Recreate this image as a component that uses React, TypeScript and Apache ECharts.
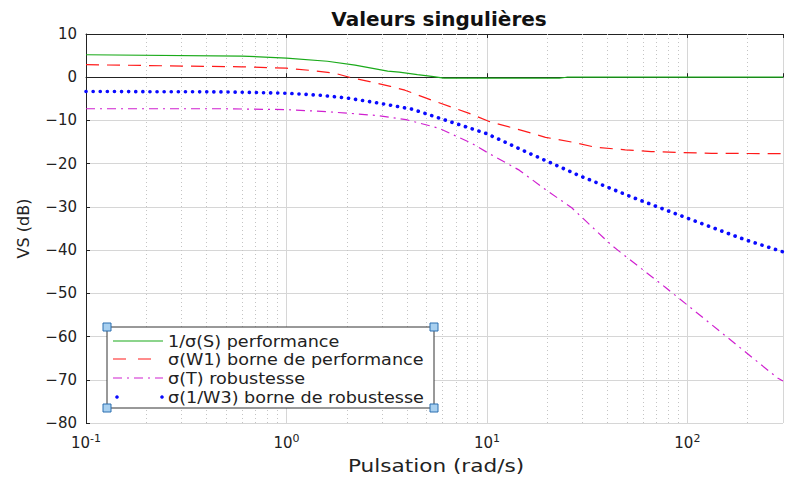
import React, { useEffect, useRef } from "react";
import * as echarts from "echarts";

const freqS = [0.1, 0.6, 1, 1.6, 2.2, 3.2, 3.65, 4.5, 5.3, 6.1, 10, 23, 25, 300];
const valS = [5.2, 4.9, 4.4, 3.7, 2.8, 1.4, 1.2, 0.6, 0.2, -0.2, -0.2, -0.2, 0, 0];

const freqW1 = [0.1, 0.6, 1, 1.3, 1.75, 2.06, 2.6, 3.3, 3.9, 5.3, 8.1, 10.2, 14.9, 19.6, 26.5, 34.8, 49, 66, 90, 132, 300];
const valW1 = [2.9, 2.4, 2.1, 1.6, 0.9, 0, -1.0, -2.1, -3.0, -5.3, -8.3, -10.2, -12.3, -13.9, -15.0, -16.2, -16.8, -17.2, -17.4, -17.6, -17.7];

const freqT = [0.1, 0.5, 1, 1.5, 2, 2.9, 3.95, 5.77, 8.4, 10.2, 14.5, 19.6, 26.5, 41.9, 77.6, 105, 282, 300];
const valT = [-7.3, -7.3, -7.5, -7.9, -8.3, -8.9, -9.8, -11.8, -15.3, -17.6, -21.5, -26.0, -30.2, -38.9, -48.6, -53.5, -69.6, -70.3];

const freqW3 = [0.1, 0.5, 1, 1.5, 2, 2.9, 4.24, 6.47, 9.9, 15.9, 28.7, 52.6, 104, 194, 300];
const valW3 = [-3.3, -3.4, -3.7, -4.2, -4.8, -6.0, -7.4, -10.2, -13.0, -17.4, -22.7, -27.7, -32.9, -37.6, -40.4];

const minorGridX = [0.2, 0.3, 0.4, 0.5, 0.6, 0.7, 0.8, 0.9, 2, 3, 4, 5, 6, 7, 8, 9, 20, 30, 40, 50, 60, 70, 80, 90, 200];

const legendLabels = [
  "1/σ(S) performance",
  "σ(W1) borne de performance",
  "σ(T) robustesse",
  "σ(1/W3) borne de robustesse",
];

const title = "Valeurs singulières";
const xName = "Pulsation (rad/s)";
const yName = "VS (dB)";

const FONT = "'DejaVu Sans', sans-serif";

const zip = (xs: number[], ys: number[]) => xs.map((x, i) => [x, ys[i]]);

const fmtPow = (v: number) => {
  const e = Math.round(Math.log10(v));
  if (Math.abs(v - Math.pow(10, e)) > 1e-6 * v) return "";
  return `{b|10}{s|${e < 0 ? "-" + Math.abs(e) : e}}`;
};

const fmtY = (v: number) => (v < 0 ? "\u2212" + Math.abs(v) : String(v));

export default function App() {
  const ref = useRef<HTMLDivElement>(null);
  useEffect(() => {
    if (!ref.current) return;
    const chart = echarts.init(ref.current, undefined, { renderer: "svg" });
    const lx = 113, lx2 = 163, tx = 168;
    const rows = [341, 359, 378, 397];
    const corner = (x: number, y: number) => ({
      type: "rect",
      shape: { x: x - 4, y: y - 4, width: 8, height: 8 },
      style: { fill: "#a8d0f0", stroke: "#2a6fb0", lineWidth: 1 },
      z: 102,
    });
    const option: any = {
      animation: false,
      backgroundColor: "#ffffff",
      title: {
        text: title,
        left: 434,
        top: 4,
        textAlign: "center",
        textStyle: { fontFamily: FONT, fontSize: 20, fontWeight: "bold", color: "#111" },
      },
      grid: { left: 86, right: 0, top: 34, bottom: 54, containLabel: false },
      xAxis: [
        {
          type: "log",
          logBase: 10,
          min: 0.1,
          max: 300,
          axisLine: { show: true, lineStyle: { color: "#222", width: 1 } },
          axisTick: { show: true, inside: true, length: 4, lineStyle: { color: "#222" } },
          axisLabel: {
            formatter: fmtPow,
            margin: 10,
            rich: {
              b: { fontFamily: FONT, fontSize: 15, color: "#222", lineHeight: 20 },
              s: { fontFamily: FONT, fontSize: 11, color: "#222", verticalAlign: "top", lineHeight: 10 },
            },
          },
          splitLine: { show: true, lineStyle: { color: "#d6d6d6", width: 1 } },
        },
        {
          type: "log",
          logBase: 10,
          min: 0.1,
          max: 300,
          position: "top",
          axisLine: { show: true, lineStyle: { color: "#222", width: 1 } },
          axisTick: { show: true, inside: true, length: 4, lineStyle: { color: "#222" } },
          axisLabel: { show: false },
          splitLine: { show: false },
        },
      ],
      yAxis: {
        type: "value",
        min: -80,
        max: 10,
        interval: 10,
        name: yName,
        nameLocation: "middle",
        nameGap: 55,
        nameTextStyle: { fontFamily: FONT, fontSize: 16, color: "#222" },
        axisLine: { show: true, lineStyle: { color: "#222", width: 1 } },
        axisTick: { show: true, inside: true, length: 4, lineStyle: { color: "#222" } },
        axisLabel: { fontFamily: FONT, fontSize: 15, color: "#222", margin: 9, formatter: fmtY },
        splitLine: { show: true, lineStyle: { color: "#d6d6d6", width: 1 } },
      },
      series: [
        {
          type: "line",
          name: "minor",
          data: [],
          silent: true,
          markLine: {
            silent: true,
            symbol: "none",
            label: { show: false },
            lineStyle: { color: "#c4c4c4", type: [1, 3], width: 1 },
            data: minorGridX.map((v) => ({ xAxis: v })),
          },
        },
        {
          type: "line",
          name: legendLabels[0],
          data: zip(freqS, valS),
          showSymbol: false,
          lineStyle: { color: "#1aaa1a", width: 1.2 },
          z: 5,
        },
        {
          type: "line",
          name: legendLabels[1],
          data: zip(freqW1, valW1),
          showSymbol: false,
          lineStyle: { color: "#ff1a1a", width: 1.2, type: [13, 8] },
          z: 5,
        },
        {
          type: "line",
          name: legendLabels[2],
          data: zip(freqT, valT),
          showSymbol: false,
          lineStyle: { color: "#d020d0", width: 1.2, type: [9, 5, 2, 5] },
          z: 5,
        },
        {
          type: "line",
          name: legendLabels[3],
          data: zip(freqW3, valW3),
          showSymbol: false,
          lineStyle: { color: "#0a0aff", width: 3.6, type: [0.1, 7], cap: "round" },
          z: 5,
        },
      ],
      graphic: [
        {
          type: "text",
          x: 436,
          y: 466,
          scaleX: 1.27,
          style: {
            text: xName,
            fontFamily: FONT,
            fontSize: 17,
            fill: "#222",
            align: "center",
            verticalAlign: "middle",
          },
        },
        {
          type: "rect",
          shape: { x: 107, y: 327, width: 327, height: 81 },
          style: { fill: "#ffffff", stroke: "#333", lineWidth: 1 },
          z: 100,
        },
        {
          type: "line",
          shape: { x1: lx, y1: rows[0], x2: lx2, y2: rows[0] },
          style: { stroke: "#1aaa1a", lineWidth: 1.2 },
          z: 101,
        },
        {
          type: "line",
          shape: { x1: lx, y1: rows[1], x2: lx2, y2: rows[1] },
          style: { stroke: "#ff1a1a", lineWidth: 1.2, lineDash: [13, 12] },
          z: 101,
        },
        {
          type: "line",
          shape: { x1: lx, y1: rows[2], x2: lx2, y2: rows[2] },
          style: { stroke: "#d020d0", lineWidth: 1.2, lineDash: [9, 5, 2, 5] },
          z: 101,
        },
        { type: "circle", shape: { cx: 117, cy: rows[3], r: 1.8 }, style: { fill: "#0a0aff" }, z: 101 },
        { type: "circle", shape: { cx: 162, cy: rows[3], r: 1.8 }, style: { fill: "#0a0aff" }, z: 101 },
        ...legendLabels.map((t, i) => ({
          type: "text",
          x: tx,
          y: rows[i],
          scaleX: 1.1,
          style: { text: t, fontFamily: FONT, fontSize: 16, fill: "#222", verticalAlign: "middle" },
          z: 101,
        })),
        corner(107, 327),
        corner(434, 327),
        corner(107, 408),
        corner(434, 408),
      ],
    };
    chart.setOption(option);
    return () => chart.dispose();
  }, []);
  return (
    <div
      ref={ref}
      style={{ position: "fixed", left: 0, top: 0, width: 786, height: 477 }}
    />
  );
}
